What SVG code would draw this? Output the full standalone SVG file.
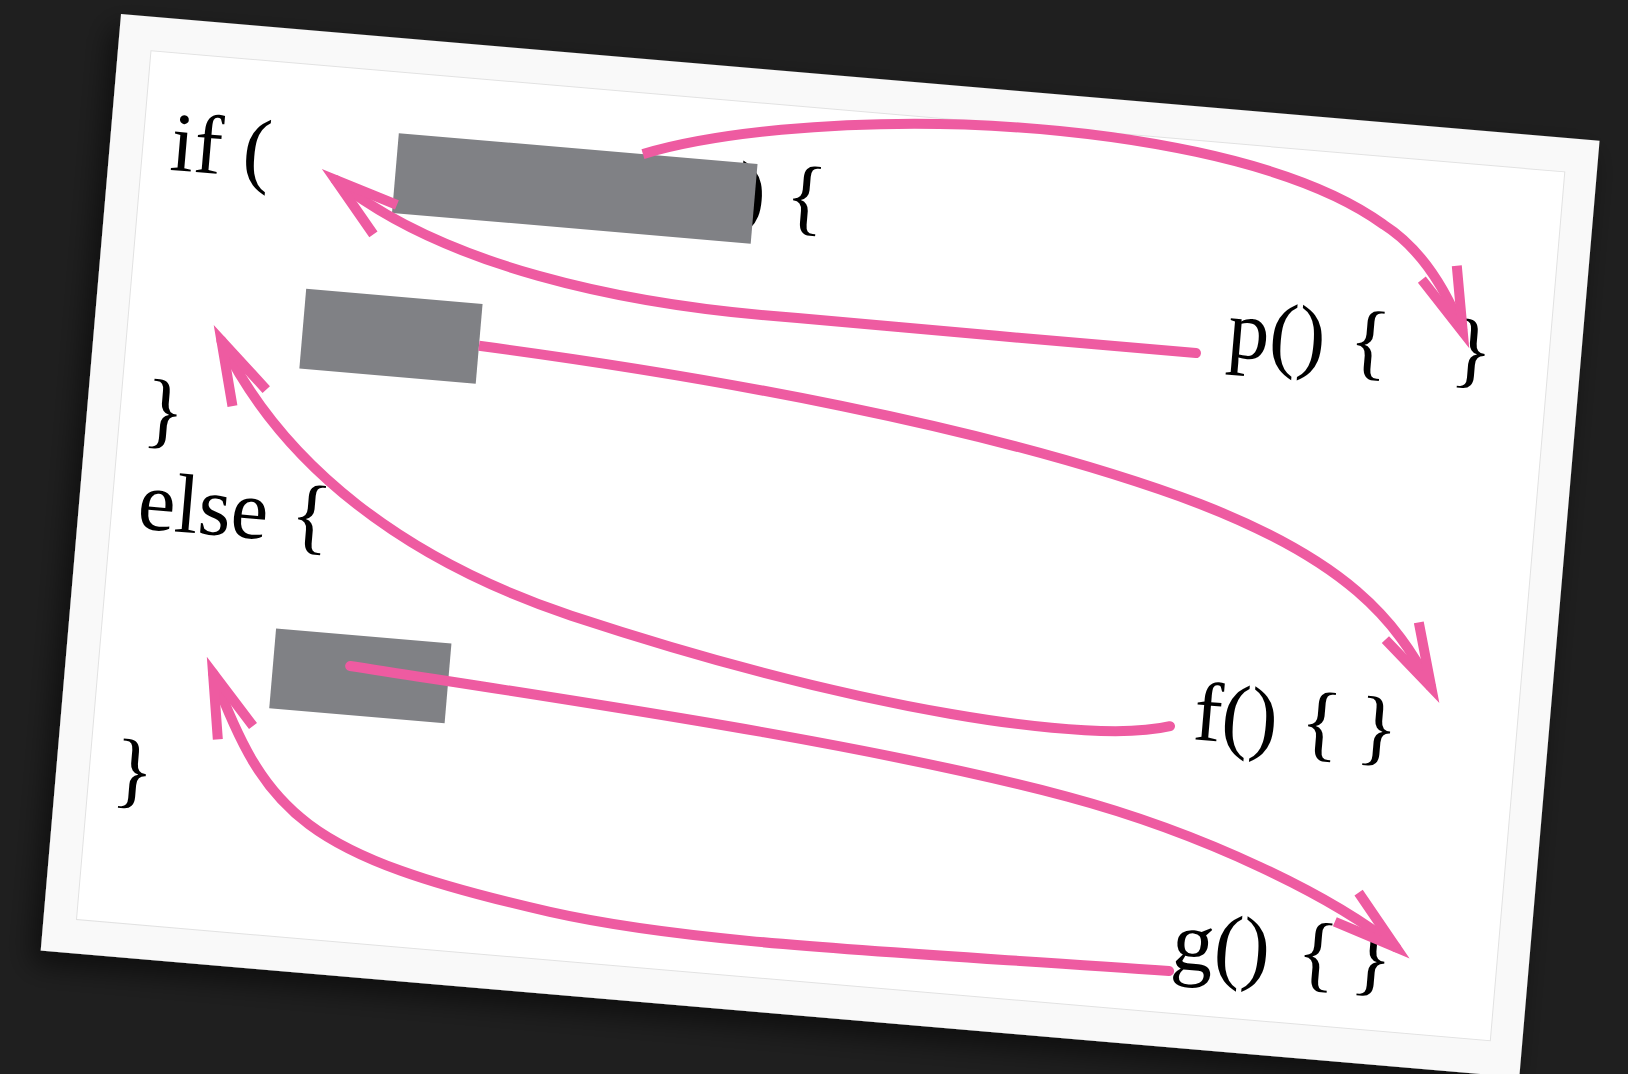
<svg xmlns="http://www.w3.org/2000/svg" width="1628" height="1074" viewBox="0 0 1628 1074">
  <defs>
    <style>
      .code { font-family: "Liberation Serif", "Times New Roman", serif; font-size: 84px; fill: #000000; }
      .blank { fill: #808185; }
      .link { fill: none; stroke: #ee5ba1; stroke-width: 10; stroke-linecap: round; stroke-linejoin: round; }
      .link.edge { stroke-linecap: butt; }
      .arrow { marker-end: url(#ah); }
    </style>
    <marker id="ah" markerUnits="userSpaceOnUse" orient="auto" markerWidth="100" markerHeight="60" viewBox="-80 -30 100 60" refX="0" refY="0" overflow="visible">
      <path d="M-63.5,-18.8 L0,0 L-63.5,18.8" fill="none" stroke="#ee5ba1" stroke-width="10" stroke-linejoin="miter" stroke-miterlimit="10"/>
    </marker>
    <filter id="shadow" x="-10%" y="-10%" width="120%" height="130%">
      <feDropShadow dx="-8" dy="14" stdDeviation="14" flood-color="#000000" flood-opacity="0.55"/>
    </filter>
  </defs>

  <rect x="0" y="0" width="1628" height="1074" fill="#1f1f1f"/>

  <g id="card" transform="translate(121,14) rotate(4.9)">
    <rect x="0" y="0" width="1484" height="940" fill="#f9f9f9" filter="url(#shadow)"/>
    <rect x="33" y="34" width="1419" height="872" fill="#ffffff" stroke="#e2e2e2" stroke-width="1"/>

    <g id="if-line">
      <text class="code" x="61" y="151">if (</text>
      <text class="code" x="630" y="151">)<tspan x="678">{</tspan></text>
    </g>
    <g id="if-close">
      <text class="code" x="57" y="419">}</text>
    </g>
    <g id="else-line">
      <text class="code" x="59" y="511">else<tspan x="212">{</tspan></text>
    </g>
    <g id="else-close">
      <text class="code" x="57" y="780">}</text>
    </g>
    <g id="p-def">
      <text class="code" x="1130" y="247">p()<tspan x="1252">{</tspan><tspan x="1355">}</tspan></text>
    </g>
    <g id="f-def">
      <text class="code" x="1129" y="631">f()<tspan x="1236">{</tspan><tspan x="1293">}</tspan></text>
    </g>
    <g id="g-def">
      <text class="code" x="1127" y="861">g()<tspan x="1252">{</tspan><tspan x="1307">}</tspan></text>
    </g>

    <g id="cond-box">
      <rect class="blank" x="287" y="95" width="360" height="80"/>
    </g>
    <g id="then-box">
      <rect class="blank" x="208" y="258" width="177" height="80"/>
    </g>
    <g id="else-box">
      <rect class="blank" x="207" y="599" width="176" height="80"/>
    </g>

    <g id="connectors">
      <path class="link edge arrow" d="M532,95 C600,68 720,45 850,38 C1000,31 1180,44 1276,102 C1320,125 1348,170 1364,202"/>
      <path class="link arrow" d="M1100,246 C960,246 840,246 700,245 C520,248 340,222 228,147"/>
      <path class="link edge arrow" d="M385,300 C600,310 900,335 1117,396 C1267,440 1322,494 1363,559"/>
      <path class="link arrow" d="M1106,620 C1030,645 800,632 500,561 C330,520 200,437 128,317"/>
      <path class="link arrow" d="M284,630 C500,645 800,662 1010,699 C1150,724 1284,776 1350,821"/>
      <path class="link arrow" d="M1126,864 C850,868 650,878 504,858 C254,823 213,785 148,649"/>
    </g>
  </g>
</svg>
